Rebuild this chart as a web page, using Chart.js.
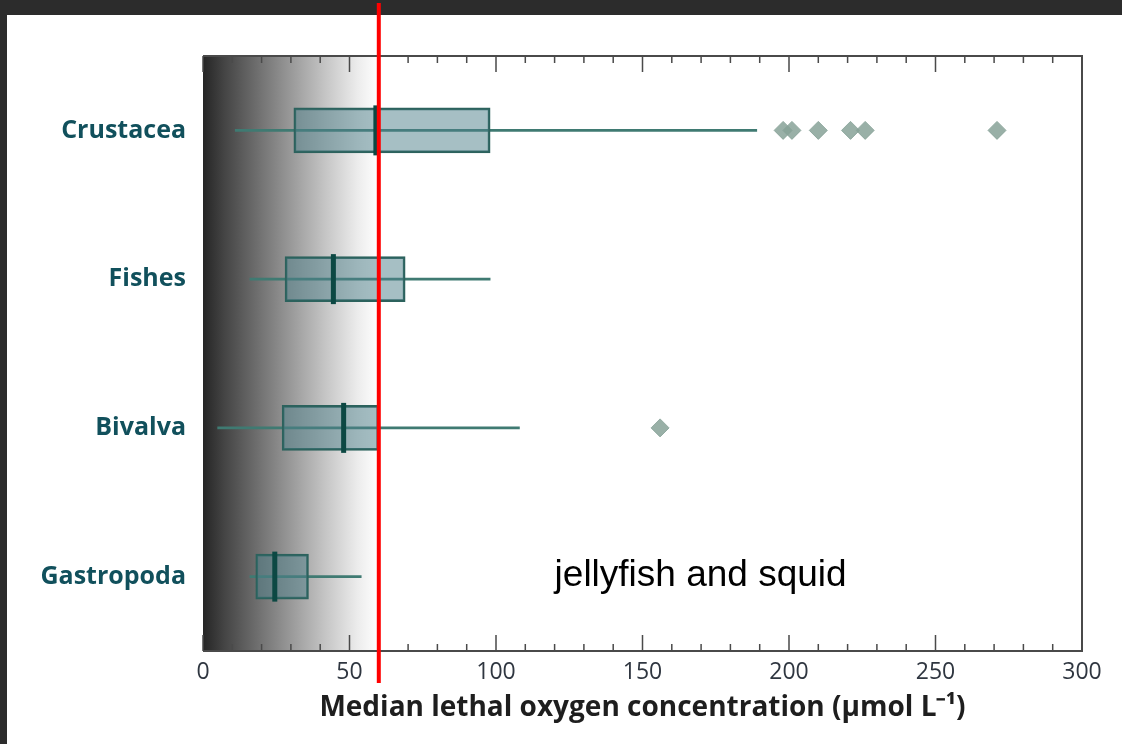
<!DOCTYPE html>
<html>
<head>
<meta charset="utf-8">
<title>Median lethal oxygen concentration</title>
<script src="https://cdn.jsdelivr.net/npm/chart.js@4.4.0/dist/chart.umd.min.js"></script>
<style>
  html, body { margin: 0; padding: 0; background: #2c2c2c; overflow: hidden; }
  #frame { position: absolute; left: 7px; top: 15px; right: 0; bottom: 0; background: #fff; }
  #wrap { position: absolute; left: 0; top: 0; width: 1122px; height: 744px; }
</style>
</head>
<body>
<div id="frame"></div>
<div id="wrap"><canvas id="chart-lethal"></canvas></div>
<script>
// data (µmol L-1)
var groups = ["Crustacea", "Fishes", "Bivalva", "Gastropoda"];
var whiskerLow = [11, 16, 5, 16];
var quart1 = [31, 28, 27, 18];
var medians = [59, 44.5, 48, 24.5];
var quart3 = [98, 69, 60, 36];
var whiskerHigh = [189, 98, 108, 54];
var outlierValues = [198, 201, 210, 221, 226, 271, 156];
var outlierGroups = ["Crustacea", "Crustacea", "Crustacea", "Crustacea", "Crustacea", "Crustacea", "Bivalva"];
var xLabelTicks = [0, 50, 100, 150, 200, 250, 300];
var thresholdValue = 60;   // red line
var hypoxicEnd = 60;       // end of the dark shading
var noteText = "jellyfish and squid";
var noteValue = 120;
var noteGroup = "Gastropoda";

var ctx = document.getElementById("chart-lethal").getContext("2d");

var whiskerData = groups.map(function (g, i) { return [whiskerLow[i], whiskerHigh[i]]; });
var boxData = groups.map(function (g, i) { return [quart1[i], quart3[i]]; });
var medianData = groups.map(function (g, i) { return { x: medians[i], y: g }; });
var outlierData = outlierValues.map(function (v, i) { return { x: v, y: outlierGroups[i] }; });

//============ shading behind the boxes
const shadePlugin = {
  id: "shade",
  beforeDatasetsDraw(chart) {
    const c = chart.ctx, a = chart.chartArea, x = chart.scales.x;
    const x0 = x.getPixelForValue(0), x1 = x.getPixelForValue(hypoxicEnd);
    const grad = c.createLinearGradient(x0, 0, x1, 0);
    grad.addColorStop(0, "#252525");
    grad.addColorStop(0.12, "#444444");
    grad.addColorStop(0.45, "#8e8e8e");
    grad.addColorStop(0.7, "#c6c6c6");
    grad.addColorStop(0.88, "#ececec");
    grad.addColorStop(1, "#ffffff");
    c.save();
    c.fillStyle = grad;
    c.fillRect(x0, a.top, x1 - x0, a.bottom - a.top);
    c.restore();
  }
};

//============ frame, inward ticks, note and red line
const overlayPlugin = {
  id: "overlay",
  afterDraw(chart) {
    const c = chart.ctx, a = chart.chartArea, x = chart.scales.x, y = chart.scales.y;
    c.save();
    c.strokeStyle = "#4a4a4a";
    c.lineWidth = 2;
    c.beginPath();
    c.moveTo(a.left, a.top);
    c.lineTo(a.right, a.top);
    c.lineTo(a.right, a.bottom);
    c.lineTo(a.left, a.bottom);
    c.stroke();

    c.lineWidth = 1.5;
    x.ticks.forEach(function (t) {
      const px = x.getPixelForValue(t.value);
      const len = t.value % 50 === 0 ? 16 : 7;
      c.beginPath();
      c.moveTo(px, a.top);
      c.lineTo(px, a.top + len);
      c.moveTo(px, a.bottom);
      c.lineTo(px, a.bottom - len);
      c.stroke();
    });

    c.fillStyle = "#000";
    c.font = "37px 'Liberation Sans', Arial, sans-serif";
    c.textAlign = "left";
    c.textBaseline = "alphabetic";
    c.fillText(noteText, x.getPixelForValue(noteValue), y.getPixelForValue(groups.indexOf(noteGroup)) + 9);

    const rx = x.getPixelForValue(thresholdValue);
    c.strokeStyle = "#ff0000";
    c.lineWidth = 4;
    c.beginPath();
    c.moveTo(rx, 3);
    c.lineTo(rx, 683);
    c.stroke();
    c.restore();
  }
};

var chartLethal = new Chart(ctx, {
  type: "bar",
  data: {
    labels: groups,
    datasets: [
      {
        label: "whisker",
        data: whiskerData,
        backgroundColor: "#3f7a72",
        barThickness: 2,
        grouped: false,
        order: 4
      },
      {
        label: "box",
        data: boxData,
        backgroundColor: "rgba(78,128,138,0.5)",
        borderColor: "#2c625d",
        borderWidth: 2,
        borderSkipped: false,
        barThickness: 45,
        grouped: false,
        order: 3
      },
      {
        type: "scatter",
        label: "median",
        data: medianData,
        pointStyle: "line",
        rotation: 90,
        radius: 25,
        hoverRadius: 25,
        borderColor: "#0c4843",
        borderWidth: 5,
        order: 2
      },
      {
        type: "scatter",
        label: "outliers",
        data: outlierData,
        pointStyle: "rectRot",
        radius: 9,
        hoverRadius: 9,
        backgroundColor: "rgba(135,162,152,0.85)",
        borderColor: "rgba(135,162,152,0.85)",
        borderWidth: 1,
        order: 1
      }
    ]
  },
  options: {
    indexAxis: "y",
    responsive: true,
    maintainAspectRatio: false,
    animation: false,
    layout: { padding: { top: 56, right: 40, bottom: 0, left: 0 } },
    scales: {
      x: {
        type: "linear",
        min: 0,
        max: 300,
        ticks: {
          stepSize: 10,
          autoSkip: false,
          maxRotation: 0,
          padding: 0,
          color: "#2f3640",
          font: { family: "'Open Sans', sans-serif", size: 23 },
          callback: function (v) { return xLabelTicks.indexOf(v) >= 0 ? v : ""; }
        },
        grid: { display: false },
        border: { display: false },
        title: {
          display: true,
          text: "Median lethal oxygen concentration (\u00b5mol L\u207b\u00b9)",
          color: "#1e1e1e",
          font: { family: "'Open Sans', sans-serif", size: 28, weight: "bold" },
          padding: { top: 0, bottom: 19 }
        },
        afterFit: function (scale) { scale.height = 93; }
      },
      y: {
        type: "category",
        ticks: {
          padding: 9,
          color: "#11505c",
          font: { family: "'Open Sans', sans-serif", size: 25, weight: "bold" }
        },
        grid: { display: false },
        border: { display: false },
        afterFit: function (scale) { scale.width = 203; }
      }
    },
    plugins: {
      legend: { display: false },
      tooltip: { enabled: false }
    }
  },
  plugins: [shadePlugin, overlayPlugin]
});
</script>
</body>
</html>
